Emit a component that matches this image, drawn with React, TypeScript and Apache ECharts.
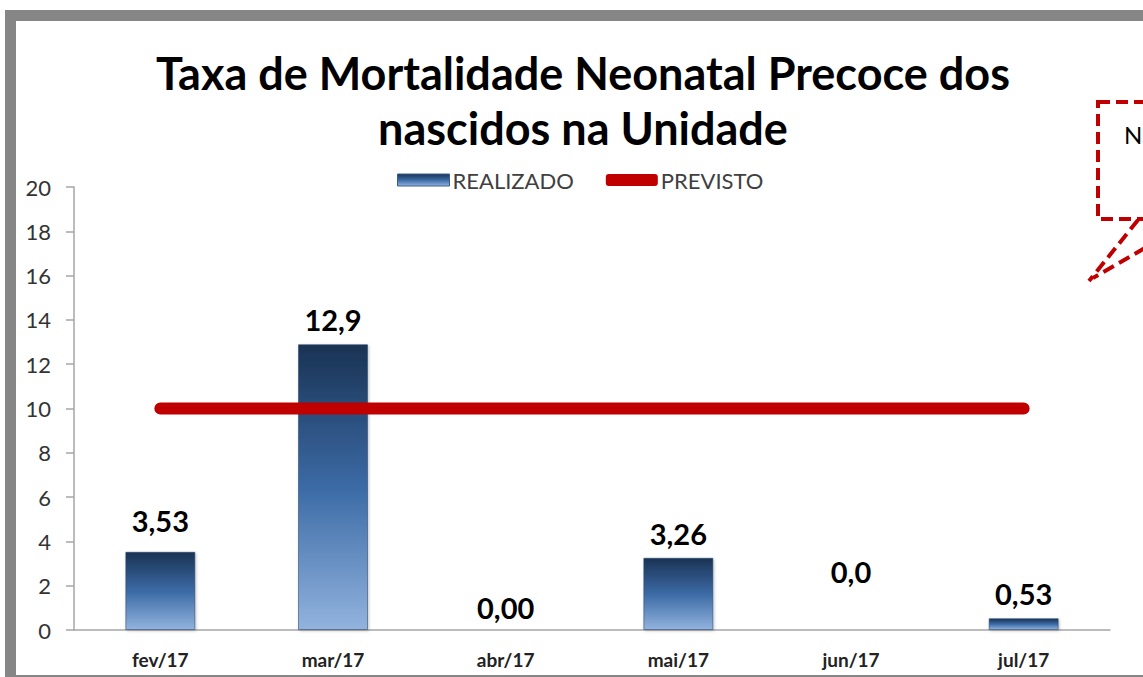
import React, { useEffect, useRef } from "react";
import * as echarts from "echarts";

const categories = ["fev/17", "mar/17", "abr/17", "mai/17", "jun/17", "jul/17"];
const realizado = [3.53, 12.9, 0, 3.26, 0, 0.53];
const realizadoLabels = ["3,53", "12,9", "0,00", "3,26", "0,0", "0,53"];
const previsto = [10, 10, 10, 10, 10, 10];
const yTicks = { min: 0, max: 20, interval: 2 };
const titleText = "Taxa de Mortalidade Neonatal Precoce dos\nnascidos na Unidade";

const FONT = "Lato, 'Liberation Sans', sans-serif";

// manual nudges of individual data labels, as in the original
const labelNudge: Record<number, number> = { 0: -7, 2: 2, 4: -34 };

export default function App() {
  const ref = useRef<HTMLDivElement>(null);
  useEffect(() => {
    if (!ref.current) return;
    const chart = echarts.init(ref.current, null, { renderer: "svg" });
    const barGradient = new echarts.graphic.LinearGradient(0, 0, 0, 1, [
      { offset: 0, color: "#1a3354" },
      { offset: 0.5, color: "#3b6aa5" },
      { offset: 1, color: "#92b3de" },
    ]);
    chart.setOption({
      animation: false,
      backgroundColor: "#ffffff",
      textStyle: { fontFamily: FONT },
      title: {
        text: titleText,
        left: 578,
        top: 40,
        textAlign: "center",
        textStyle: {
          fontFamily: FONT,
          fontSize: 45,
          fontWeight: "bold",
          color: "#000000",
          lineHeight: 55,
        },
      },
      legend: {
        left: 392,
        top: 164,
        itemWidth: 52,
        itemHeight: 12,
        itemGap: 32,
        textStyle: { fontFamily: FONT, fontSize: 22, color: "#404040", padding: [0, 0, 0, -2] },
        data: [
          { name: "REALIZADO", icon: "rect", itemStyle: { color: barGradient, borderColor: "#3a5f8f", borderWidth: 1 } },
          { name: "PREVISTO", icon: "roundRect", itemStyle: { color: "#c00000" } },
        ],
      },
      grid: { left: 74, right: 33, top: 187, bottom: 47, containLabel: false },
      xAxis: {
        type: "category",
        data: categories,
        axisLine: { lineStyle: { color: "#a6a6a6", width: 1.5 } },
        axisTick: { show: false },
        axisLabel: {
          margin: 20,
          fontFamily: FONT,
          fontSize: 19,
          fontWeight: "bold",
          color: "#222222",
        },
      },
      yAxis: {
        type: "value",
        min: yTicks.min,
        max: yTicks.max,
        interval: yTicks.interval,
        splitLine: { show: false },
        axisLine: { show: true, lineStyle: { color: "#a6a6a6", width: 1.5 } },
        axisTick: { show: true, length: 8, lineStyle: { color: "#a6a6a6", width: 1.5 } },
        axisLabel: { margin: 23, fontFamily: FONT, fontSize: 22, color: "#333333" },
      },
      series: [
        {
          name: "REALIZADO",
          type: "bar",
          barWidth: 70,
          data: realizado.map((v, i) => ({
            value: v,
            label: labelNudge[i] !== undefined ? { offset: [0, labelNudge[i]] } : undefined,
          })),
          itemStyle: {
            color: barGradient,
            borderColor: "rgba(40,70,110,0.55)",
            borderWidth: 1,
            shadowColor: "rgba(0,0,0,0.25)",
            shadowBlur: 3,
            shadowOffsetX: 1,
            shadowOffsetY: 1,
          },
          label: {
            show: true,
            position: "top",
            distance: 10,
            formatter: (p: any) => realizadoLabels[p.dataIndex],
            fontFamily: FONT,
            fontSize: 29,
            fontWeight: "bold",
            color: "#000000",
          },
          z: 2,
        },
        {
          name: "PREVISTO",
          type: "line",
          data: previsto,
          symbol: "none",
          lineStyle: { color: "#c00000", width: 12, cap: "round" },
          itemStyle: { color: "#c00000" },
          z: 3,
        },
      ],
      graphic: [
        {
          type: "rect",
          shape: { x: 10.5, y: 15.5, width: 1200, height: 665 },
          style: { fill: "none", stroke: "#868686", lineWidth: 11 },
          silent: true,
          z: 10,
        },
        {
          type: "rect",
          shape: { x: 1098, y: 102, width: 120, height: 117 },
          style: { fill: "#ffffff", stroke: "#c00000", lineWidth: 4, lineDash: [12, 6] },
          z: 5,
        },
        {
          type: "text",
          x: 1124,
          y: 122,
          style: { text: "N", font: "24px " + FONT, fill: "#000000" },
          z: 6,
        },
        {
          type: "line",
          shape: { x1: 1138, y1: 220, x2: 1089, y2: 281 },
          style: { stroke: "#c00000", lineWidth: 4, lineDash: [12, 6] },
          z: 5,
        },
        {
          type: "line",
          shape: { x1: 1145, y1: 248, x2: 1093, y2: 278 },
          style: { stroke: "#c00000", lineWidth: 4, lineDash: [12, 6] },
          z: 5,
        },
      ],
    });
    return () => chart.dispose();
  }, []);
  return (
    <div
      ref={ref}
      style={{ position: "fixed", left: 0, top: 0, width: 1143, height: 677 }}
    />
  );
}
